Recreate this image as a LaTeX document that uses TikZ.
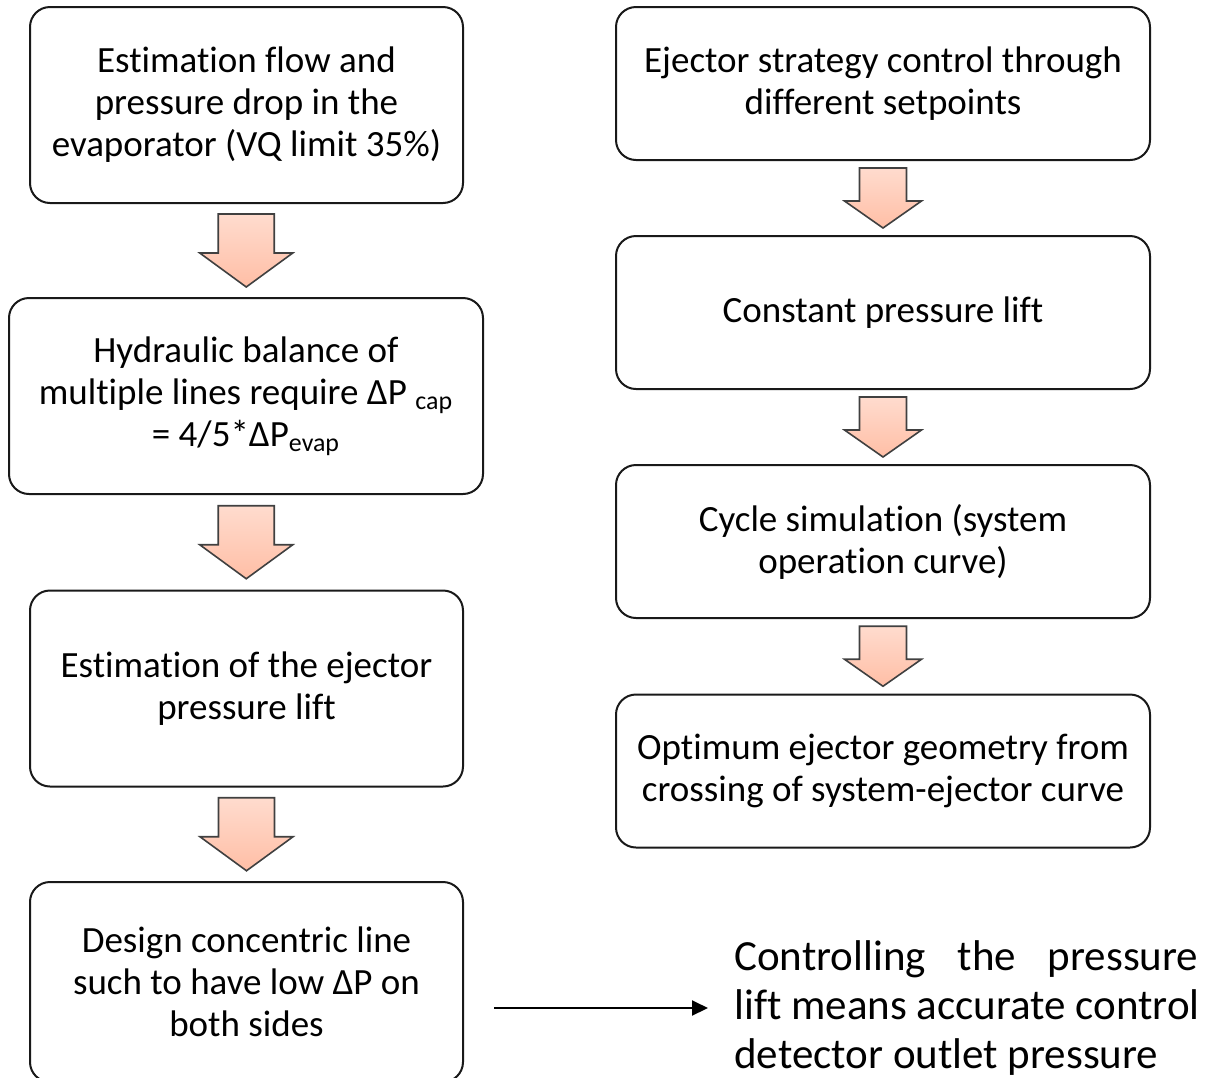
\documentclass[tikz,border=0pt]{standalone}
\usepackage{fontspec}
\setmainfont[Ligatures=NoCommon]{Carlito}
\usetikzlibrary{arrows.meta,calc}
\colorlet{arrfill}{red!45!orange!35!white}
\colorlet{arrline}{black!75}

\tikzset{
    stepbox/.style={draw=black!90,line width=1pt,rounded corners=10pt,
        align=center,inner sep=0pt,font=\fontsize{18.5pt}{21pt}\selectfont},
    leftbox/.style={stepbox,minimum width=216.5pt,minimum height=98pt},
    rightbox/.style={stepbox,minimum width=267pt,minimum height=76.5pt},
    % block arrow: total width, shaft width, height, head length
    pics/blockarrow/.style n args={4}{code={
        \draw[arrline,line width=0.8pt,line join=miter,
              top color=arrfill!55!white,bottom color=arrfill]
            (-#2/2,-#3/2) -- (#2/2,-#3/2) -- (#2/2,#3/2-#4) -- (#1/2,#3/2-#4)
            -- (0,#3/2) -- (-#1/2,#3/2-#4) -- (-#2/2,#3/2-#4) -- cycle;
    }}
}

\begin{document}
\begin{tikzpicture}[
        x=0.5pt,y=-0.5pt
    ]
        \useasboundingbox (0,0) rectangle (1221,1077);

        % left column
        \node[leftbox] (l1) at (246.5,105) {Estimation flow and\\pressure drop in the\\evaporator (VQ limit 35\%)};
        \node[stepbox,minimum width=237pt,minimum height=98pt] (l2) at (246,396)
            {Hydraulic balance of\\multiple lines require ΔP \textsubscript{cap}\\= 4/5*ΔP\textsubscript{evap}};
        \node[leftbox] (l3) at (246.5,688.5) {Estimation of the ejector\\pressure lift};
        \node[leftbox,minimum height=100pt] (l4) at (246.5,982) {Design concentric line\\such to have low ΔP on\\both sides};

        % right column
        \node[rightbox] (r1) at (883,83.5) {Ejector strategy control through\\different setpoints};
        \node[rightbox] (r2) at (883,312.5) {Constant pressure lift};
        \node[rightbox] (r3) at (883,541.5) {Cycle simulation (system\\operation curve)};
        \node[rightbox] (r4) at (883,771) {Optimum ejector geometry from\\crossing of system-ejector curve};

        \node[anchor=west,inner sep=0pt,align=left,
              font=\fontsize{21.5pt}{24.5pt}\selectfont] (note) at (734,1008)
            {\makebox[232pt][s]{Controlling the pressure}\\lift means accurate control\\detector outlet pressure};

        % block arrows
        \foreach \a/\b in {l1/l2,l2/l3,l3/l4} {
            \pic at ($(\a.south)!0.5!(\b.north)$) {blockarrow={93}{56}{73}{34}};
        }
        \foreach \a/\b in {r1/r2,r2/r3,r3/r4} {
            \pic at ($(\a.south)!0.5!(\b.north)$) {blockarrow={77}{47}{60}{27}};
        }

        \draw[-{Triangle[length=8pt,width=7.5pt]},line width=1pt,shorten <=15pt,shorten >=13pt]
            (note.west -| l4.east) -- (note.west);
    \end{tikzpicture}
\end{document}
